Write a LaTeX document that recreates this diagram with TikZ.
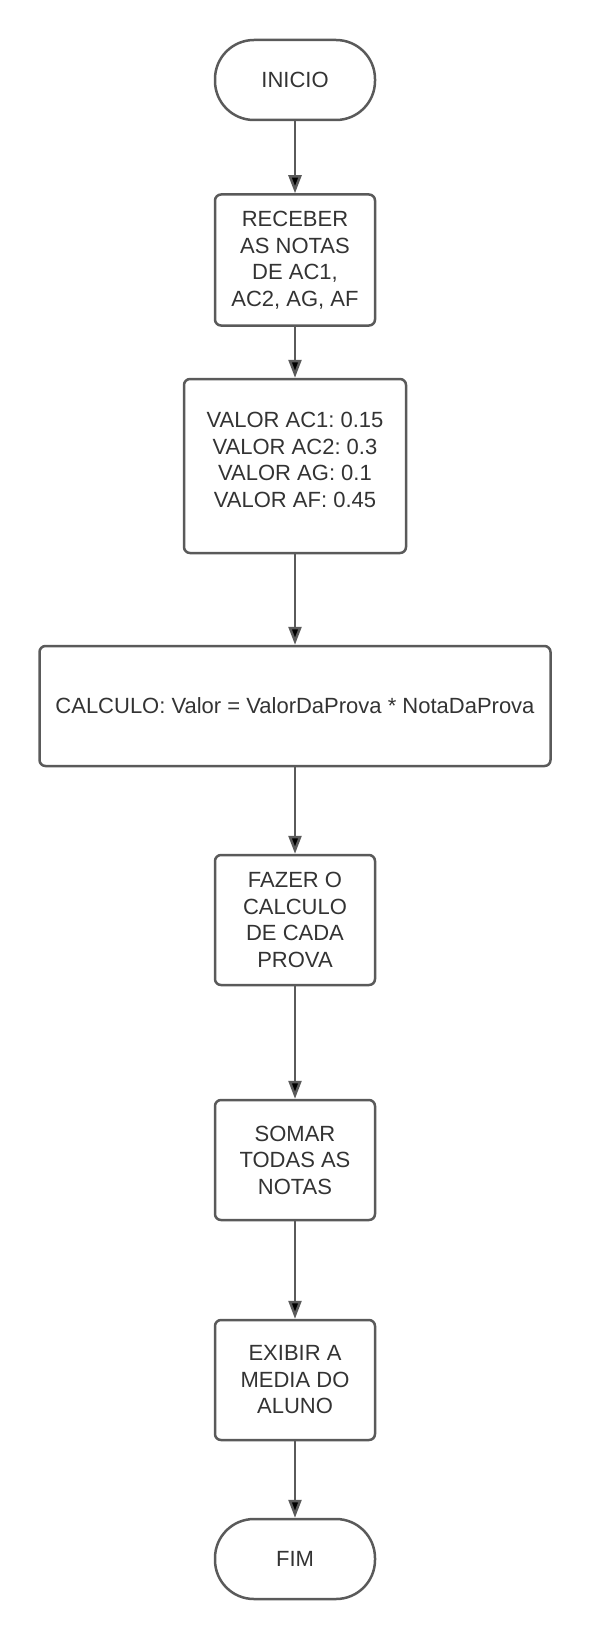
\documentclass[tikz,border=0pt]{standalone}
\usepackage{fontspec}
\setmainfont{Liberation Sans}
\usetikzlibrary{positioning, arrows.meta}
\definecolor{linegray}{HTML}{5A5A5A}
\definecolor{textgray}{HTML}{333333}
\frenchspacing

\begin{document}
\begin{tikzpicture}[x=1pt,y=1pt,>={Triangle[length=18pt,width=13pt]},on grid]
\tikzstyle{terminal}=[rectangle,rounded corners=39pt,draw=linegray,line width=2.5pt,minimum width=160pt,minimum height=80pt,text=textgray,font=\fontsize{22}{26.5}\selectfont,align=center]
\tikzstyle{process}=[rectangle,rounded corners=6pt,draw=linegray,line width=2.5pt,minimum width=160pt,text=textgray,font=\fontsize{22}{26.5}\selectfont,align=center]
\useasboundingbox (0,0) rectangle (590,-1640);

%-- Nodes --
\node[terminal] (inicio) at (295,-80) {INICIO};
\node[process, minimum height=131pt] (receber) [below of=inicio, node distance=180pt] {RECEBER\\AS NOTAS\\DE AC1,\\AC2, AG, AF};
\node[process, minimum width=222pt, minimum height=174pt] (valores) [below of=receber, node distance=206pt] {VALOR AC1: 0.15\\VALOR AC2: 0.3\\VALOR AG: 0.1\\VALOR AF: 0.45\\[-14pt]};
\node[process, minimum width=511pt, minimum height=120pt] (calculo) [below of=valores, node distance=240pt] {CALCULO: Valor = ValorDaProva * NotaDaProva};
\node[process, minimum height=130pt] (fazer) [below of=calculo, node distance=214pt] {FAZER O\\CALCULO\\DE CADA\\PROVA};
\node[process, minimum height=120pt] (somar) [below of=fazer, node distance=240pt] {SOMAR\\TODAS AS\\NOTAS};
\node[process, minimum height=120pt] (exibir) [below of=somar, node distance=220pt] {EXIBIR A\\MEDIA DO\\ALUNO};
\node[terminal] (fim) [below of=exibir, node distance=179pt] {FIM};

%-- Transitions --
\path[->,draw=linegray,line width=2.5pt]
  (inicio) edge (receber)
  (receber) edge (valores)
  (valores) edge (calculo)
  (calculo) edge (fazer)
  (fazer) edge (somar)
  (somar) edge (exibir)
  (exibir) edge (fim);

\end{tikzpicture}
\end{document}
